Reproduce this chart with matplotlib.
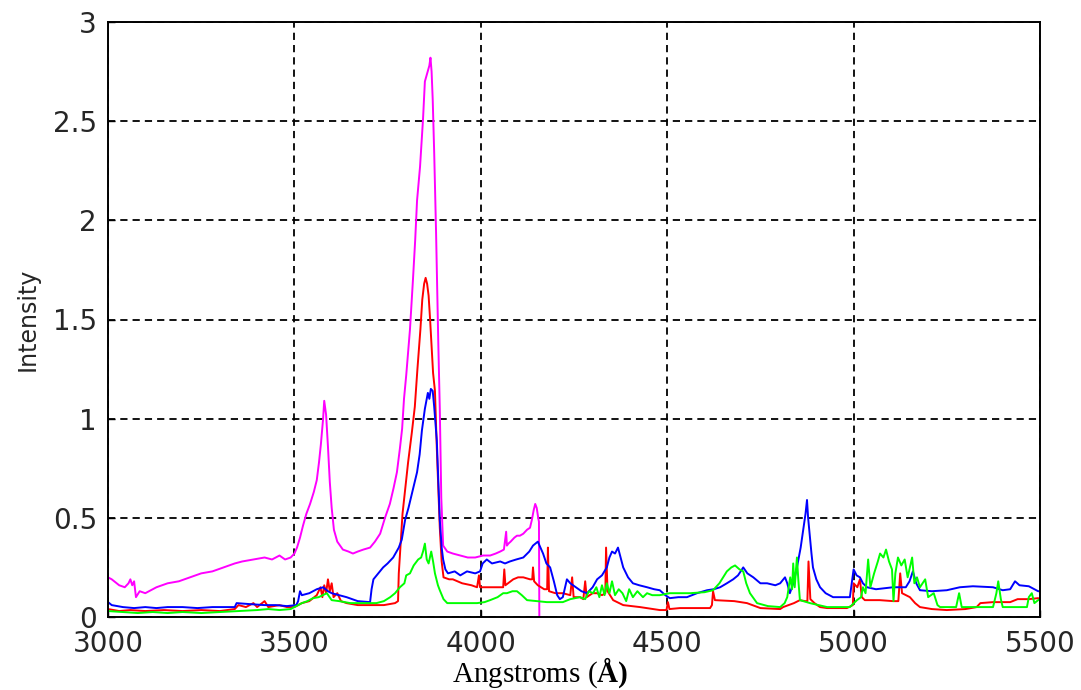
import numpy as np
import matplotlib
matplotlib.use("Agg")
import matplotlib.pyplot as plt

# spectra as (wavelength in Angstrom, intensity) pairs
magenta_pts = [
    (3000, 0.20), (3010, 0.19), (3030, 0.16), (3045, 0.15), (3055, 0.17), (3060, 0.19),
    (3065, 0.16), (3070, 0.18), (3075, 0.10), (3085, 0.13), (3100, 0.12), (3130, 0.15),
    (3160, 0.17), (3190, 0.18), (3220, 0.20), (3250, 0.22), (3280, 0.23), (3310, 0.25),
    (3340, 0.27), (3360, 0.28), (3390, 0.29), (3420, 0.30), (3440, 0.29), (3460, 0.31),
    (3475, 0.29), (3490, 0.30), (3500, 0.32), (3507, 0.35), (3515, 0.40), (3523, 0.46),
    (3532, 0.52), (3542, 0.57), (3552, 0.63), (3560, 0.69), (3566, 0.78), (3571, 0.87),
    (3577, 1.00), (3580, 1.09), (3585, 1.02), (3590, 0.86), (3595, 0.68), (3600, 0.55),
    (3606, 0.44), (3615, 0.38), (3630, 0.34), (3645, 0.33), (3657, 0.32), (3670, 0.33),
    (3685, 0.34), (3703, 0.35), (3716, 0.38), (3730, 0.42), (3743, 0.50), (3756, 0.57),
    (3766, 0.65), (3775, 0.73), (3783, 0.85), (3789, 0.95), (3794, 1.10), (3800, 1.22),
    (3810, 1.45), (3818, 1.70), (3824, 1.90), (3829, 2.10), (3837, 2.27), (3845, 2.51),
    (3850, 2.70), (3856, 2.74), (3862, 2.78), (3865, 2.82), (3868, 2.75), (3871, 2.61),
    (3875, 2.34), (3880, 1.94), (3886, 1.38), (3890, 1.05), (3894, 0.60), (3899, 0.36),
    (3910, 0.33), (3925, 0.32), (3945, 0.31), (3965, 0.30), (3985, 0.30), (4006, 0.31),
    (4025, 0.31), (4040, 0.32), (4052, 0.33), (4062, 0.34), (4068, 0.43), (4070, 0.36),
    (4074, 0.37), (4080, 0.38), (4090, 0.40), (4097, 0.41), (4105, 0.41), (4114, 0.42),
    (4124, 0.44), (4132, 0.45), (4137, 0.49), (4142, 0.54), (4146, 0.57), (4150, 0.55),
    (4154, 0.50), (4156, 0.48), (4157, 0.0), (4178, 0.0),
]

red_pts = [
    (3000, 0.04), (3030, 0.03), (3060, 0.035), (3100, 0.03), (3150, 0.035), (3200, 0.03),
    (3250, 0.035), (3300, 0.03), (3340, 0.04), (3350, 0.06), (3370, 0.05), (3390, 0.07),
    (3400, 0.05), (3420, 0.08), (3430, 0.05), (3460, 0.06), (3480, 0.05), (3500, 0.05),
    (3520, 0.07), (3540, 0.08), (3560, 0.11), (3570, 0.15), (3575, 0.10), (3580, 0.16),
    (3585, 0.12), (3590, 0.19), (3595, 0.13), (3600, 0.17), (3605, 0.10), (3615, 0.12),
    (3625, 0.08), (3640, 0.07), (3670, 0.06), (3700, 0.06), (3740, 0.06), (3770, 0.07),
    (3778, 0.08), (3780, 0.22), (3786, 0.40), (3790, 0.52), (3797, 0.64), (3805, 0.78),
    (3815, 0.93), (3823, 1.06), (3830, 1.25), (3838, 1.45), (3843, 1.60), (3848, 1.68),
    (3852, 1.71), (3856, 1.68), (3860, 1.62), (3864, 1.50), (3868, 1.36), (3872, 1.23),
    (3877, 1.14), (3882, 0.85), (3886, 0.65), (3890, 0.45), (3895, 0.28), (3900, 0.20),
    (3915, 0.19), (3925, 0.19), (3950, 0.17), (3975, 0.16), (3990, 0.15), (3995, 0.21),
    (3998, 0.15), (4020, 0.15), (4052, 0.15), (4060, 0.15), (4063, 0.24), (4066, 0.16),
    (4087, 0.19), (4100, 0.20), (4114, 0.20), (4132, 0.19), (4138, 0.19), (4140, 0.25),
    (4143, 0.18), (4153, 0.16), (4170, 0.14), (4178, 0.14), (4180, 0.35), (4183, 0.13),
    (4200, 0.12), (4220, 0.12), (4240, 0.11), (4245, 0.20), (4249, 0.10), (4266, 0.10),
    (4275, 0.09), (4280, 0.18), (4284, 0.10), (4300, 0.12), (4312, 0.12), (4325, 0.11),
    (4334, 0.12), (4336, 0.35), (4340, 0.13), (4355, 0.085), (4382, 0.06), (4427, 0.05),
    (4480, 0.035), (4498, 0.035), (4502, 0.075), (4506, 0.04), (4534, 0.045), (4580, 0.045),
    (4615, 0.045), (4620, 0.06), (4623, 0.13), (4628, 0.085), (4680, 0.08), (4714, 0.07),
    (4750, 0.045), (4803, 0.04), (4811, 0.05), (4840, 0.07), (4856, 0.085), (4870, 0.08),
    (4876, 0.08), (4879, 0.28), (4884, 0.09), (4895, 0.07), (4910, 0.05), (4929, 0.045),
    (4982, 0.045), (4998, 0.06), (5000, 0.17), (5010, 0.15), (5017, 0.19), (5022, 0.10),
    (5030, 0.085), (5070, 0.085), (5106, 0.08), (5120, 0.08), (5125, 0.22), (5130, 0.12),
    (5151, 0.10), (5165, 0.07), (5178, 0.05), (5210, 0.04), (5250, 0.035), (5300, 0.04),
    (5330, 0.05), (5340, 0.07), (5374, 0.075), (5420, 0.075), (5440, 0.09), (5470, 0.09),
    (5495, 0.095), (5500, 0.09),
]

blue_pts = [
    (3000, 0.075), (3010, 0.06), (3040, 0.05), (3070, 0.045), (3100, 0.05), (3130, 0.045),
    (3160, 0.05), (3200, 0.05), (3240, 0.045), (3280, 0.05), (3320, 0.05), (3340, 0.05),
    (3345, 0.07), (3380, 0.065), (3420, 0.06), (3450, 0.06), (3480, 0.055), (3505, 0.06),
    (3510, 0.08), (3515, 0.13), (3520, 0.11), (3540, 0.12), (3560, 0.14), (3577, 0.15),
    (3590, 0.13), (3600, 0.12), (3620, 0.11), (3640, 0.10), (3670, 0.08), (3703, 0.075),
    (3707, 0.14), (3712, 0.19), (3725, 0.22), (3738, 0.25), (3750, 0.27), (3765, 0.30),
    (3780, 0.35), (3788, 0.39), (3797, 0.49), (3806, 0.55), (3815, 0.62), (3829, 0.73),
    (3836, 0.82), (3842, 0.94), (3850, 1.05), (3858, 1.13), (3862, 1.10), (3866, 1.15),
    (3871, 1.14), (3875, 1.06), (3882, 0.89), (3886, 0.69), (3890, 0.49), (3895, 0.35),
    (3899, 0.29), (3905, 0.24), (3912, 0.22), (3930, 0.23), (3945, 0.21), (3963, 0.23),
    (3985, 0.22), (3998, 0.23), (4005, 0.27), (4016, 0.29), (4030, 0.27), (4052, 0.28),
    (4065, 0.27), (4078, 0.28), (4095, 0.29), (4114, 0.30), (4130, 0.33), (4140, 0.36),
    (4153, 0.38), (4160, 0.35), (4167, 0.32), (4176, 0.27), (4186, 0.25), (4196, 0.18),
    (4205, 0.11), (4212, 0.09), (4220, 0.10), (4231, 0.19), (4240, 0.17), (4255, 0.15),
    (4270, 0.13), (4285, 0.12), (4300, 0.15), (4312, 0.19), (4325, 0.21), (4338, 0.25),
    (4345, 0.30), (4352, 0.33), (4360, 0.32), (4368, 0.35), (4375, 0.30), (4382, 0.25),
    (4395, 0.20), (4408, 0.17), (4425, 0.16), (4446, 0.15), (4465, 0.14), (4480, 0.135),
    (4495, 0.11), (4507, 0.095), (4530, 0.10), (4553, 0.10), (4580, 0.12), (4607, 0.135),
    (4625, 0.14), (4642, 0.15), (4660, 0.17), (4677, 0.19), (4690, 0.21), (4704, 0.25),
    (4715, 0.22), (4731, 0.20), (4750, 0.17), (4768, 0.17), (4790, 0.16), (4803, 0.17),
    (4816, 0.20), (4822, 0.17), (4829, 0.12), (4840, 0.18), (4848, 0.25), (4858, 0.35),
    (4865, 0.44), (4871, 0.52), (4875, 0.59), (4878, 0.50), (4882, 0.42), (4887, 0.32),
    (4891, 0.25), (4900, 0.19), (4910, 0.15), (4925, 0.12), (4945, 0.10), (4970, 0.10),
    (4990, 0.10), (4995, 0.17), (5000, 0.24), (5008, 0.21), (5017, 0.20), (5025, 0.17),
    (5036, 0.15), (5060, 0.14), (5106, 0.15), (5140, 0.15), (5150, 0.18), (5159, 0.23),
    (5168, 0.17), (5178, 0.135), (5210, 0.13), (5250, 0.135), (5285, 0.15), (5320, 0.155),
    (5374, 0.15), (5400, 0.135), (5420, 0.14), (5433, 0.18), (5445, 0.16), (5470, 0.155),
    (5495, 0.13), (5500, 0.13),
]

green_pts = [
    (3000, 0.03), (3040, 0.025), (3080, 0.02), (3120, 0.025), (3160, 0.02), (3200, 0.025),
    (3250, 0.02), (3300, 0.025), (3350, 0.03), (3400, 0.035), (3430, 0.04), (3460, 0.035),
    (3490, 0.04), (3500, 0.05), (3520, 0.07), (3535, 0.08), (3550, 0.095), (3565, 0.10),
    (3587, 0.12), (3600, 0.085), (3620, 0.08), (3650, 0.07), (3690, 0.07), (3720, 0.07),
    (3740, 0.08), (3757, 0.10), (3770, 0.12), (3783, 0.15), (3795, 0.17), (3800, 0.21),
    (3810, 0.22), (3820, 0.26), (3832, 0.29), (3840, 0.30), (3845, 0.33), (3850, 0.37),
    (3855, 0.29), (3860, 0.27), (3867, 0.33), (3872, 0.28), (3877, 0.22), (3885, 0.16),
    (3890, 0.135), (3900, 0.09), (3910, 0.07), (3950, 0.07), (3990, 0.07), (4010, 0.075),
    (4025, 0.085), (4045, 0.10), (4060, 0.12), (4070, 0.12), (4085, 0.13), (4097, 0.13),
    (4110, 0.11), (4124, 0.085), (4150, 0.08), (4177, 0.075), (4220, 0.075), (4240, 0.09),
    (4266, 0.10), (4280, 0.09), (4290, 0.13), (4301, 0.12), (4310, 0.15), (4318, 0.10),
    (4325, 0.16), (4332, 0.11), (4338, 0.17), (4345, 0.12), (4352, 0.18), (4360, 0.11),
    (4370, 0.14), (4380, 0.12), (4390, 0.08), (4398, 0.14), (4408, 0.10), (4420, 0.13),
    (4435, 0.10), (4446, 0.12), (4460, 0.11), (4480, 0.11), (4507, 0.12), (4540, 0.12),
    (4561, 0.12), (4600, 0.125), (4623, 0.135), (4640, 0.17), (4660, 0.23), (4672, 0.25),
    (4682, 0.26), (4694, 0.24), (4704, 0.23), (4712, 0.17), (4722, 0.12), (4741, 0.07),
    (4770, 0.055), (4803, 0.05), (4815, 0.07), (4822, 0.10), (4830, 0.20), (4835, 0.14),
    (4838, 0.27), (4842, 0.15), (4848, 0.30), (4852, 0.18), (4856, 0.085), (4883, 0.07),
    (4929, 0.05), (4990, 0.05), (5009, 0.085), (5020, 0.10), (5025, 0.15), (5032, 0.12),
    (5039, 0.29), (5045, 0.15), (5055, 0.22), (5065, 0.28), (5071, 0.32), (5080, 0.30),
    (5087, 0.34), (5095, 0.28), (5103, 0.24), (5107, 0.08), (5112, 0.22), (5119, 0.30),
    (5128, 0.26), (5137, 0.29), (5145, 0.20), (5157, 0.30), (5163, 0.17), (5170, 0.20),
    (5178, 0.15), (5192, 0.19), (5200, 0.10), (5215, 0.12), (5225, 0.06), (5232, 0.05),
    (5260, 0.05), (5275, 0.05), (5283, 0.12), (5290, 0.05), (5330, 0.05), (5374, 0.05),
    (5383, 0.12), (5388, 0.18), (5395, 0.09), (5400, 0.05), (5440, 0.05), (5465, 0.05),
    (5470, 0.10), (5478, 0.12), (5485, 0.07), (5495, 0.085), (5500, 0.09),
]

x_ticks = [3000, 3500, 4000, 4500, 5000, 5500]
y_ticks = [0, 0.5, 1, 1.5, 2, 2.5, 3]
y_ticklabels = ["0", "0.5", "1", "1.5", "2", "2.5", "3"]

series = [
    (magenta_pts, "#ff00ff"),
    (red_pts, "#ff0000"),
    (blue_pts, "#0000ff"),
    (green_pts, "#00ff00"),
]

plt.rcParams["mathtext.fontset"] = "custom"
plt.rcParams["mathtext.rm"] = "Liberation Serif"
plt.rcParams["mathtext.bf"] = "Liberation Serif:bold"

fig = plt.figure(figsize=(10.81, 6.90), dpi=100)
ax = fig.add_axes([108 / 1081, 73 / 690, 932 / 1081, 595 / 690])

for pts, color in series:
    w, v = np.array(pts).T
    ax.plot(w, v, color=color, linewidth=1.4)

ax.set_xlim(3000, 5500)
ax.set_ylim(0, 3)
ax.set_xticks(x_ticks)
ax.set_yticks(y_ticks)
ax.set_yticklabels(y_ticklabels)
ax.tick_params(direction="in", length=5, width=1.0, labelsize=20,
               labelcolor="#262626", top=False, right=False)
ax.tick_params(axis="x", pad=9)
ax.tick_params(axis="y", pad=8)
for label in ax.get_xticklabels() + ax.get_yticklabels():
    label.set_family("DejaVu Sans")

ax.grid(True, color="black", linestyle=(0, (4, 2.8)), linewidth=1.3)
for spine in ax.spines.values():
    spine.set_linewidth(1.4)
    spine.set_color("black")

ax.set_ylabel("Intensity", family=["Liberation Sans Narrow", "DejaVu Sans"],
              fontsize=17, color="#262626")
ax.yaxis.set_label_coords(-0.073, 0.5)
ax.set_xlabel(r"Angstroms ($\mathbf{Å)}$", family="Liberation Serif",
              fontsize=21, color="black")
ax.xaxis.set_label_coords(0.4635, -0.064)

fig.savefig("out.png", dpi=100, facecolor="white")
